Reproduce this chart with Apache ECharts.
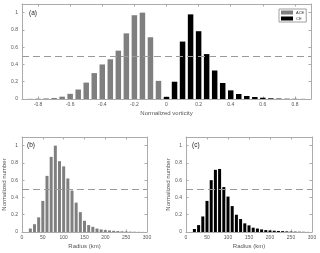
<!DOCTYPE html>
<html>
<head>
<meta charset="utf-8">
<script src="https://cdn.jsdelivr.net/npm/echarts@6/dist/echarts.min.js"></script>
<style>
html,body{margin:0;padding:0;background:#fff;}
#chart{width:320px;height:253px;}
</style>
</head>
<body>
<div id="chart"></div>
<script>
// ---- data ----
const vortTicks = [-0.8, -0.6, -0.4, -0.2, 0, 0.2, 0.4, 0.6, 0.8];
const aceVort = [-0.85, -0.8, -0.75, -0.7, -0.65, -0.6, -0.55, -0.5, -0.45, -0.4, -0.35, -0.3, -0.25, -0.2, -0.15, -0.1, -0.05];
const aceVortN = [0.002, 0.004, 0.007, 0.012, 0.027, 0.06, 0.11, 0.19, 0.30, 0.40, 0.46, 0.56, 0.76, 0.97, 1.0, 0.715, 0.21];
const ceVort = [0, 0.05, 0.1, 0.15, 0.2, 0.25, 0.3, 0.35, 0.4, 0.45, 0.5, 0.55, 0.6, 0.65, 0.7, 0.75, 0.8, 0.85];
const ceVortN = [0.025, 0.2, 0.665, 0.98, 0.785, 0.52, 0.33, 0.185, 0.1, 0.058, 0.035, 0.023, 0.015, 0.008, 0.005, 0.003, 0.002, 0.001];
const radiusKm = [20, 30, 40, 50, 60, 70, 80, 90, 100, 110, 120, 130, 140, 150, 160, 170, 180, 190, 200, 210, 220, 230, 240, 250, 260, 270, 280, 290];
const aceRadiusN = [0.04, 0.09, 0.17, 0.36, 0.65, 0.87, 1.0, 0.82, 0.76, 0.62, 0.48, 0.34, 0.23, 0.13, 0.08, 0.06, 0.04, 0.03, 0.022, 0.018, 0.014, 0.011, 0.008, 0.006, 0.004, 0.003, 0.002, 0.001];
const ceRadiusN = [0.035, 0.08, 0.18, 0.36, 0.6, 0.72, 0.73, 0.52, 0.41, 0.3, 0.2, 0.15, 0.1, 0.077, 0.05, 0.04, 0.03, 0.022, 0.018, 0.015, 0.012, 0.01, 0.007, 0.005, 0.004, 0.003, 0.002, 0.001];
const halfLevel = 0.5;
const panelLabels = ['(a)', '(b)', '(c)'];

// ---- style ----
const FONT = 'Liberation Sans';
const FRAME = '#ababab';
const TXT = '#555';
const ACE_COLOR = '#7f7f7f';
const CE_COLOR = '#000000';

const chart = echarts.init(document.getElementById('chart'), null, {renderer: 'canvas'});

function pairs(xs, ys) { return xs.map((x, i) => [x, ys[i]]); }
const lineCfg = {show: true, onZero: false, lineStyle: {color: FRAME, width: 1}};
const tickCfg = () => ({show: true, inside: true, length: 2.5, lineStyle: {color: FRAME}});

function bottomX(grid, min, max, interval, name, custom) {
  const ax = {
    type: 'value', gridIndex: grid, position: 'bottom', min: min, max: max,
    axisLine: lineCfg,
    axisTick: tickCfg(),
    axisLabel: {show: true, fontSize: 5, color: TXT, fontFamily: FONT, margin: 3},
    splitLine: {show: false},
    name: name, nameLocation: 'middle', nameGap: 11,
    nameTextStyle: {fontSize: 6, color: TXT, fontFamily: FONT}
  };
  if (custom) {
    ax.axisTick.customValues = custom;
    ax.axisLabel.customValues = custom;
  } else {
    ax.interval = interval;
  }
  return ax;
}
function topX(grid, min, max, interval, custom) {
  const ax = {
    type: 'value', gridIndex: grid, position: 'top', min: min, max: max,
    axisLine: lineCfg,
    axisTick: tickCfg(),
    axisLabel: {show: false},
    splitLine: {show: false}
  };
  if (custom) ax.axisTick.customValues = custom; else ax.interval = interval;
  return ax;
}
function leftY(grid, nameGap) {
  return {
    type: 'value', gridIndex: grid, position: 'left', min: 0, max: 1.1, interval: 0.2,
    axisLine: lineCfg,
    axisTick: tickCfg(),
    axisLabel: {show: true, fontSize: 5, color: TXT, fontFamily: FONT, margin: 4, showMaxLabel: false},
    splitLine: {show: false},
    name: 'Normalized number', nameLocation: 'middle', nameGap: nameGap,
    nameTextStyle: {fontSize: 6, color: TXT, fontFamily: FONT}
  };
}
function rightY(grid) {
  return {
    type: 'value', gridIndex: grid, position: 'right', min: 0, max: 1.1, interval: 0.2,
    axisLine: lineCfg,
    axisTick: tickCfg(),
    axisLabel: {show: false},
    splitLine: {show: false}
  };
}
const dashLine = {
  silent: true, symbol: 'none', animation: false,
  label: {show: false},
  lineStyle: {type: [7, 4], color: '#9a9a9a', width: 1},
  data: [{yAxis: halfLevel}]
};

const option = {
  animation: false,
  backgroundColor: '#fff',
  textStyle: {fontFamily: FONT},
  grid: [
    {left: 22, top: 4, width: 289, height: 95, containLabel: false, outerBoundsMode: 'none'},
    {left: 22, top: 137, width: 125, height: 95, containLabel: false, outerBoundsMode: 'none'},
    {left: 186, top: 137, width: 126, height: 95, containLabel: false, outerBoundsMode: 'none'}
  ],
  title: [
    {text: panelLabels[0], left: 29, top: 10, padding: 0, textStyle: {fontSize: 6.5, fontWeight: 'normal', color: '#222', fontFamily: FONT}},
    {text: panelLabels[1], left: 27, top: 142, padding: 0, textStyle: {fontSize: 6.5, fontWeight: 'normal', color: '#222', fontFamily: FONT}},
    {text: panelLabels[2], left: 192, top: 142, padding: 0, textStyle: {fontSize: 6.5, fontWeight: 'normal', color: '#222', fontFamily: FONT}}
  ],
  legend: {
    data: ['ACE', 'CE'], orient: 'vertical', left: 279, top: 9,
    itemWidth: 12, itemHeight: 4, itemGap: 2, padding: [1.5, 2],
    icon: 'rect', borderColor: '#888', borderWidth: 0.8,
    textStyle: {fontSize: 4, color: '#333', fontFamily: FONT, padding: [0, 0, 0, -2]},
    selectedMode: false
  },
  xAxis: [
    bottomX(0, -0.9, 0.9, null, 'Normalized vorticity', vortTicks),
    topX(0, -0.9, 0.9, null, vortTicks),
    bottomX(1, 0, 300, 50, 'Radius (km)', null),
    topX(1, 0, 300, 50, null),
    bottomX(2, 0, 300, 50, 'Radius (km)', null),
    topX(2, 0, 300, 50, null)
  ],
  yAxis: [
    leftY(0, 12), rightY(0),
    leftY(1, 12), rightY(1),
    leftY(2, 10), rightY(2)
  ],
  series: [
    {name: 'ACE', type: 'bar', xAxisIndex: 0, yAxisIndex: 0, barWidth: 5.5, barGap: '-100%',
     itemStyle: {color: ACE_COLOR}, data: pairs(aceVort, aceVortN), markLine: dashLine},
    {name: 'CE', type: 'bar', xAxisIndex: 0, yAxisIndex: 0, barWidth: 5.5, barGap: '-100%',
     itemStyle: {color: CE_COLOR}, data: pairs(ceVort, ceVortN)},
    {name: 'ACE radius', type: 'bar', xAxisIndex: 2, yAxisIndex: 2, barWidth: 3,
     itemStyle: {color: ACE_COLOR}, data: pairs(radiusKm, aceRadiusN), markLine: dashLine},
    {name: 'CE radius', type: 'bar', xAxisIndex: 4, yAxisIndex: 4, barWidth: 3,
     itemStyle: {color: CE_COLOR}, data: pairs(radiusKm, ceRadiusN), markLine: dashLine}
  ]
};
chart.setOption(option);
</script>
</body>
</html>
